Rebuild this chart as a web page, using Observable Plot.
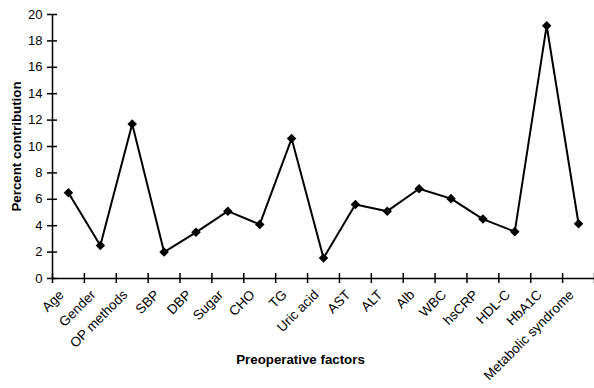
<!DOCTYPE html>
<html>
<head>
<meta charset="utf-8">
<script src="https://cdn.jsdelivr.net/npm/d3@7"></script>
<script src="https://cdn.jsdelivr.net/npm/@observablehq/plot@0.6"></script>
<style>
  html, body { margin: 0; padding: 0; background: #fff; }
  svg { display: block; }
</style>
</head>
<body>
<div id="chart"></div>
<script>
const factors = ["Age", "Gender", "OP methods", "SBP", "DBP", "Sugar", "CHO", "TG", "Uric acid", "AST", "ALT", "Alb", "WBC", "hsCRP", "HDL-C", "HbA1C", "Metabolic syndrome"];
const contributions = [6.5, 2.5, 11.7, 2.0, 3.5, 5.1, 4.1, 10.6, 1.55, 5.6, 5.1, 6.8, 6.05, 4.5, 3.55, 19.15, 4.15];
const yTicks = [0, 2, 4, 6, 8, 10, 12, 14, 16, 18, 20];
const xTitle = "Preoperative factors";
const yTitle = "Percent contribution";

const data = factors.map((f, i) => ({factor: f, idx: i + 0.5, value: contributions[i]}));
const bounds = d3.range(factors.length + 1);

const chart = Plot.plot({
  width: 594,
  height: 388,
  marginLeft: 52,
  marginRight: 0,
  marginTop: 14,
  marginBottom: 110,
  style: {fontFamily: "'Liberation Sans', Arial, sans-serif", fontSize: "13px", color: "#000", background: "#fff"},
  x: {type: "linear", domain: [0, factors.length]},
  y: {domain: [0, 20]},
  marks: [
    Plot.ruleY([0], {stroke: "#000", strokeWidth: 1.5}),
    Plot.ruleX([0], {stroke: "#000", strokeWidth: 1.5}),
    Plot.axisY({ticks: yTicks, tickSize: 10, dx: 5, tickPadding: 5, strokeWidth: 1.5, fontSize: 13, label: null}),
    Plot.axisX({ticks: bounds, tickSize: 10, dy: -5, strokeWidth: 1.5, tickFormat: () => "", label: null}),
    Plot.text(data, {x: "idx", y: 0, text: "factor", rotate: -45, textAnchor: "end", lineAnchor: "middle", dx: -7, dy: 14, fontSize: 13.5, fill: "#000"}),
    Plot.line(data, {x: "idx", y: "value", stroke: "#000", strokeWidth: 2}),
    Plot.dot(data, {x: "idx", y: "value", symbol: "diamond2", r: 4.3, fill: "#000", stroke: "none"}),
    Plot.text([yTitle], {frameAnchor: "left", textAnchor: "middle", lineAnchor: "middle", rotate: -90, dx: -36, fontWeight: "bold", fontSize: 13.3, fill: "#000"}),
    Plot.text([xTitle], {frameAnchor: "bottom", textAnchor: "middle", lineAnchor: "middle", dx: -23, dy: 81, fontWeight: "bold", fontSize: 13.3, fill: "#000"})
  ]
});
document.getElementById("chart").appendChild(chart);
</script>
</body>
</html>
